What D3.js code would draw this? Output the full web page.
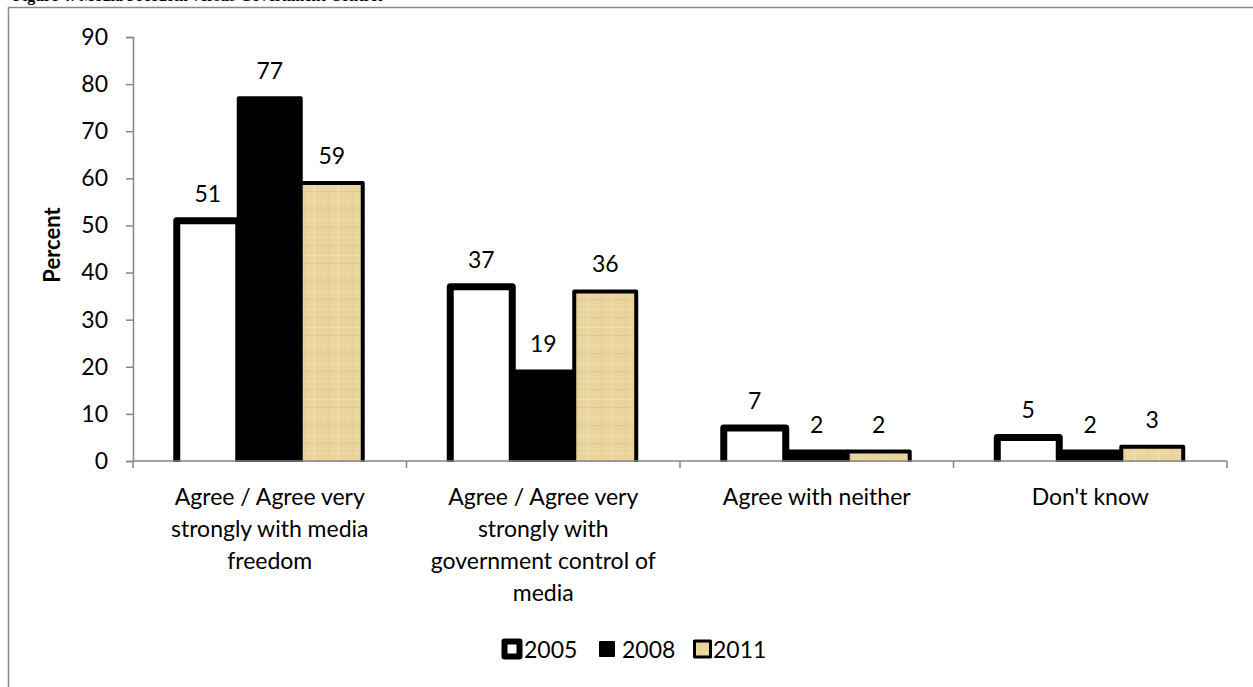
<!DOCTYPE html>
<html>
<head>
<meta charset="utf-8">
<script src="https://cdn.jsdelivr.net/npm/d3@7"></script>
<style>
  html, body { margin: 0; padding: 0; background: #fff; }
  svg { display: block; }
  text { font-family: Lato, "Open Sans", sans-serif; fill: #000; }
</style>
</head>
<body>
<svg id="chart" width="1253" height="687"></svg>
<script>
// Survey responses: media freedom vs. government control (percent)
const categories = [
  "Agree / Agree very strongly with media freedom",
  "Agree / Agree very strongly with government control of media",
  "Agree with neither",
  "Don't know"
];
const categoryLines = [
  ["Agree / Agree very", "strongly with media", "freedom"],
  ["Agree / Agree very", "strongly with", "government control of", "media"],
  ["Agree with neither"],
  ["Don't know"]
];
const years = ["2005", "2008", "2011"];
const values2005 = [51, 37, 7, 5];
const values2008 = [77, 19, 2, 2];
const values2011 = [59, 36, 2, 3];
const yTicks = [0, 10, 20, 30, 40, 50, 60, 70, 80, 90];

const seriesValues = { "2005": values2005, "2008": values2008, "2011": values2011 };

const FONT = "23px";
const svg = d3.select("#chart");
const plot = { left: 133, right: 1227, top: 37, bottom: 461 };

// Paper-like texture for the 2011 series
const defs = svg.append("defs");
const pat = defs.append("pattern")
  .attr("id", "papyrus").attr("patternUnits", "userSpaceOnUse")
  .attr("width", 24).attr("height", 18);
pat.append("rect").attr("width", 24).attr("height", 18).attr("fill", "#ead59e");
pat.append("rect").attr("x", 0).attr("y", 3).attr("width", 24).attr("height", 1).attr("fill", "#f3e3b4").attr("opacity", 0.8);
pat.append("rect").attr("x", 0).attr("y", 11).attr("width", 24).attr("height", 1).attr("fill", "#d9c287").attr("opacity", 0.6);
pat.append("rect").attr("x", 7).attr("y", 0).attr("width", 1).attr("height", 18).attr("fill", "#dcc58c").attr("opacity", 0.5);
pat.append("rect").attr("x", 17).attr("y", 0).attr("width", 1).attr("height", 18).attr("fill", "#f4e6bc").attr("opacity", 0.7);

defs.append("clipPath").attr("id", "plotClip")
  .append("rect").attr("x", plot.left).attr("y", 0)
  .attr("width", plot.right - plot.left).attr("height", plot.bottom + 1);

const styles = {
  "2005": { fill: "#ffffff", stroke: "#000", sw: 7 },
  "2008": { fill: "#000000", stroke: "#000", sw: 4 },
  "2011": { fill: "url(#papyrus)", stroke: "#000", sw: 4 }
};

// Figure title (sits at the very top of the page)
svg.append("text")
  .attr("x", 13).attr("y", 1)
  .style("font-family", "'Liberation Serif', serif")
  .style("font-weight", "bold").style("font-size", "16px")
  .text("Figure 4: Media Freedom versus Government Control");

// Chart frame
svg.append("rect")
  .attr("x", 8.5).attr("y", 7.5).attr("width", 1400).attr("height", 900)
  .attr("fill", "none").attr("stroke", "#8a8a8a").attr("stroke-width", 1.5);

const x0 = d3.scaleBand().domain(categories).range([plot.left, plot.right])
  .paddingInner(0.32).paddingOuter(0.16);
const x1 = d3.scaleBand().domain(years).range([0, x0.bandwidth()]);
const y = d3.scaleLinear().domain([0, 90]).range([plot.bottom, plot.top]);

// Bars
const groups = svg.append("g").attr("clip-path", "url(#plotClip)")
  .selectAll("g").data(categories).join("g")
  .attr("transform", d => `translate(${x0(d)},0)`);

groups.selectAll("rect")
  .data((c, i) => years.map(yr => ({ yr, v: seriesValues[yr][i] })))
  .join("rect")
  .attr("x", d => x1(d.yr))
  .attr("y", d => y(d.v))
  .attr("width", x1.bandwidth())
  .attr("height", d => y(0) - y(d.v) + 6)
  .attr("fill", d => styles[d.yr].fill)
  .attr("stroke", d => styles[d.yr].stroke)
  .attr("stroke-width", d => styles[d.yr].sw)
  .attr("stroke-linejoin", "round");

// Value labels
svg.append("g").selectAll("g").data(categories).join("g")
  .attr("transform", d => `translate(${x0(d)},0)`)
  .selectAll("text")
  .data((c, i) => years.map(yr => ({ yr, v: seriesValues[yr][i] })))
  .join("text")
  .attr("x", d => x1(d.yr) + x1.bandwidth() / 2)
  .attr("y", d => y(d.v) - 19)
  .attr("text-anchor", "middle")
  .style("font-size", FONT)
  .text(d => d.v);

// Y axis
const yAxis = svg.append("g")
  .attr("transform", `translate(${plot.left},0)`)
  .call(d3.axisLeft(y).tickValues(yTicks).tickSize(7).tickSizeOuter(7).tickPadding(18));
yAxis.selectAll("path, line").attr("stroke", "#868686").attr("stroke-width", 1.5);
yAxis.selectAll("text").style("font-size", FONT).style("font-family", "Lato, sans-serif");

// X axis with ticks at the category boundaries
const boundaries = categories.map((c, i) => plot.left + (plot.right - plot.left) * i / categories.length)
  .concat([plot.right]);
svg.append("line")
  .attr("x1", plot.left).attr("x2", plot.right)
  .attr("y1", plot.bottom).attr("y2", plot.bottom)
  .attr("stroke", "#868686").attr("stroke-width", 1.5);
svg.append("g").selectAll("line").data(boundaries).join("line")
  .attr("x1", d => d).attr("x2", d => d)
  .attr("y1", plot.bottom).attr("y2", plot.bottom + 7)
  .attr("stroke", "#868686").attr("stroke-width", 1.5);

// Category labels
svg.append("g").selectAll("text").data(categories).join("text")
  .attr("text-anchor", "middle")
  .attr("transform", d => `translate(${x0(d) + x0.bandwidth() / 2},${plot.bottom + 44})`)
  .style("font-size", FONT)
  .selectAll("tspan")
  .data((c, i) => categoryLines[i])
  .join("tspan")
  .attr("x", 0)
  .attr("dy", (d, i) => i === 0 ? 0 : 32)
  .text(d => d);

// Y axis title
svg.append("text")
  .attr("transform", `translate(60,${(plot.top + plot.bottom) / 2 - 4}) rotate(-90)`)
  .attr("text-anchor", "middle")
  .style("font-size", "22px").style("font-weight", "bold")
  .text("Percent");

// Legend
const legendItems = [
  { yr: "2005", x: 501 },
  { yr: "2008", x: 599 },
  { yr: "2011", x: 693 }
];
const legend = svg.append("g").selectAll("g").data(legendItems).join("g")
  .attr("transform", d => `translate(${d.x},649)`);
legend.append("rect")
  .attr("x", d => d.yr === "2005" ? 3.5 : (d.yr === "2008" ? 0.5 : 1.5))
  .attr("y", d => d.yr === "2005" ? -7.5 : (d.yr === "2008" ? -7.5 : -8))
  .attr("width", d => d.yr === "2005" ? 15 : (d.yr === "2008" ? 15 : 16))
  .attr("height", d => d.yr === "2005" ? 15 : (d.yr === "2008" ? 15 : 16))
  .attr("fill", d => styles[d.yr].fill)
  .attr("stroke", "#000")
  .attr("stroke-width", d => d.yr === "2005" ? 6 : (d.yr === "2011" ? 3 : 1))
  .attr("stroke-linejoin", "round");
legend.append("text")
  .attr("x", d => d.yr === "2011" ? 20 : 23).attr("y", 8.5)
  .style("font-size", FONT)
  .text(d => d.yr);
</script>
</body>
</html>
